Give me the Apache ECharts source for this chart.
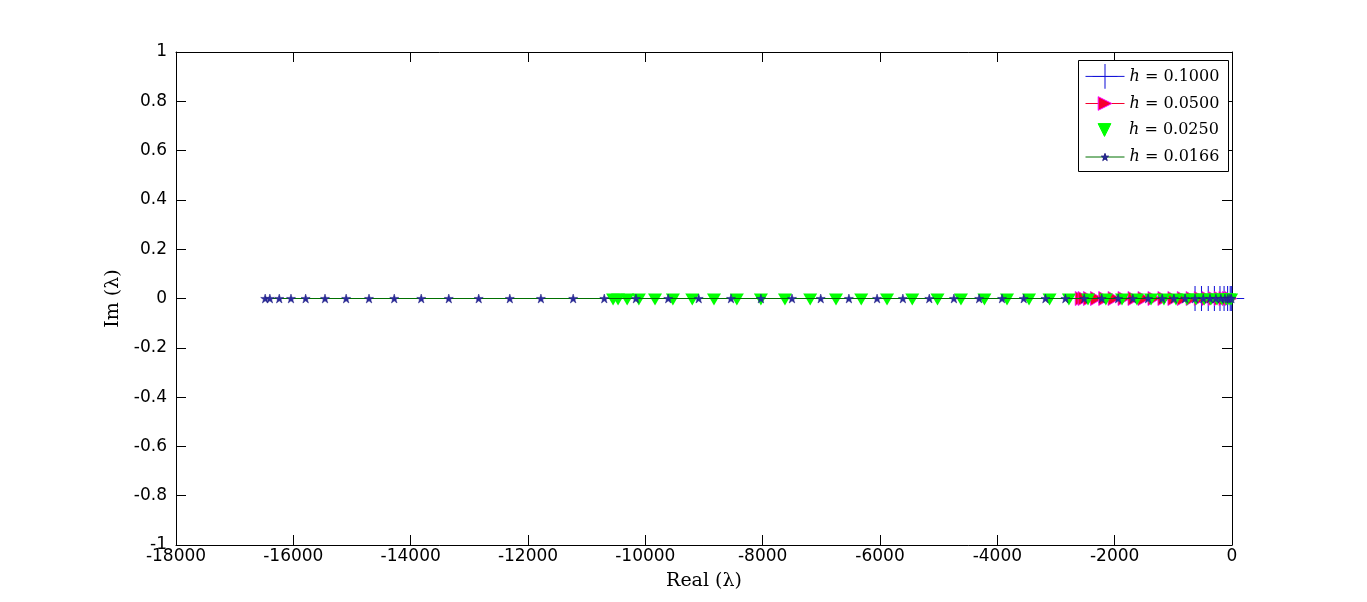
<!DOCTYPE html>
<html><head><meta charset="utf-8">
<script src="https://cdn.jsdelivr.net/npm/echarts@6/dist/echarts.min.js"></script>
<style>html,body{margin:0;padding:0;background:#fff}#c{width:1367px;height:602px}</style>
</head><body><div id="c"></div>
<script>
// ---- data ----
const seriesNames = ['h = 0.1000', 'h = 0.0500', 'h = 0.0250', 'h = 0.0166'];
// real parts of eigenvalues, imaginary parts are all 0
const re_h1000 = [-630, -520, -405, -300, -205, -135, -75, -30, -5];
const re_h0500 = [-2570, -2520, -2430, -2310, -2170, -2010, -1840, -1670, -1500, -1330, -1160, -990, -830, -680, -540, -410, -300, -200, -120, -60, -20];
const re_h0250 = [-10550, -10465, -10310, -10110, -9835, -9530, -9200, -8830, -8440, -8030, -7620, -7190, -6750, -6320, -5880, -5450, -5020, -4620, -4220, -3835, -3460, -3110, -2780, -2455, -2150, -1875, -1620, -1380, -1160, -955, -765, -615, -475, -360, -255, -170, -100, -50, -15];
const re_h0166 = [-16480, -16400, -16240, -16040, -15790, -15460, -15100, -14710, -14280, -13820, -13350, -12840, -12310, -11780, -11230, -10700, -10160, -9610, -9090, -8540, -8030, -7500, -7010, -6530, -6050, -5610, -5160, -4740, -4310, -3920, -3550, -3180, -2840, -2520, -2220, -1940, -1690, -1430, -1190, -990, -800, -630, -490, -375, -275, -190, -120, -70, -35, -10];
const imagPart = 0;
const xTicks = [-18000, -16000, -14000, -12000, -10000, -8000, -6000, -4000, -2000, 0];
const xTickLabels = ['-18000', '-16000', '-14000', '-12000', '-10000', '-8000', '-6000', '-4000', '-2000', '0'];
const yTicks = [-1, -0.8, -0.6, -0.4, -0.2, 0, 0.2, 0.4, 0.6, 0.8, 1];
const yTickLabels = ['-1', '-0.8', '-0.6', '-0.4', '-0.2', '0', '0.2', '0.4', '0.6', '0.8', '1'];
const xTitle = 'Real (λ)';
const yTitle = 'Im (λ)';

// ---- styles ----
const PLUS = 'path://M11.5,0 h1 v24 h-1 z M0,11.5 h24 v1 h-24 z';
const TRI_RIGHT = 'path://M0,0 L17,10 L0,20 Z';
const TRI_DOWN = 'path://M0,0 L20,0 L10,17 Z';
const STAR = 'path://M0,-100 L22,-31 L95,-31 L36,12 L59,81 L0,38 L-59,81 L-36,12 L-95,-31 L-22,-31 Z';

const pts = arr => arr.map(v => [v, imagPart]);
const lookup = (ticks, labels) => v => {
  const i = ticks.findIndex(t => Math.abs(t - v) < 1e-9);
  return i >= 0 ? labels[i] : '';
};
const tickFont = { color: '#000', fontFamily: 'DejaVu Sans', fontSize: 17 };
const titleFont = { color: '#000', fontFamily: 'DejaVu Serif', fontSize: 19 };
const axisCommon = {
  type: 'value',
  axisLine: { show: true, onZero: false, lineStyle: { color: '#000', width: 1 } },
  axisTick: { show: true, inside: true, length: 10, lineStyle: { color: '#000', width: 1 } },
  splitLine: { show: false }
};
const legendText = {
  color: '#000', fontFamily: 'DejaVu Serif', fontSize: 16, lineHeight: 16,
  rich: { i: { fontStyle: 'italic', fontFamily: 'DejaVu Serif', fontSize: 16, lineHeight: 16, color: '#000' } }
};
function mkLegend(name, top, itemHeight, lineW) {
  return {
    data: [name], orient: 'vertical', left: 1085, top: top, padding: 0,
    itemWidth: 39, itemHeight: itemHeight, selectedMode: false, z: 20,
    formatter: n => '{i|h}' + n.slice(1),
    textStyle: legendText,
    lineStyle: { width: lineW, opacity: lineW > 0 ? 1 : 0 },
    itemStyle: { borderWidth: 1 }
  };
}

const chart = echarts.init(document.getElementById('c'), null, { renderer: 'canvas' });
chart.setOption({
  animation: false,
  backgroundColor: '#fff',
  grid: { left: 176, right: 135, top: 52, bottom: 57, containLabel: false },
  xAxis: [
    Object.assign({}, axisCommon, {
      min: -18000, max: 0, interval: 2000, position: 'bottom',
      axisLabel: Object.assign({ margin: 3, formatter: lookup(xTicks, xTickLabels) }, tickFont),
      name: xTitle, nameLocation: 'middle', nameGap: 27, nameTextStyle: titleFont
    }),
    Object.assign({}, axisCommon, {
      min: -18000, max: 0, interval: 2000, position: 'top', axisLabel: { show: false }
    })
  ],
  yAxis: [
    Object.assign({}, axisCommon, {
      min: -1, max: 1, interval: 0.2, position: 'left',
      axisLabel: Object.assign({ margin: 9, formatter: lookup(yTicks, yTickLabels) }, tickFont),
      name: yTitle, nameLocation: 'middle', nameGap: 42, nameTextStyle: titleFont
    }),
    Object.assign({}, axisCommon, {
      min: -1, max: 1, interval: 0.2, position: 'right', axisLabel: { show: false }
    })
  ],
  legend: [
    mkLegend(seriesNames[0], 64, 31, 1),
    mkLegend(seriesNames[1], 95.5, 17, 1),
    mkLegend(seriesNames[2], 122, 16, 0),
    mkLegend(seriesNames[3], 149, 9, 1)
  ],
  graphic: [{
    type: 'rect', z: 10,
    shape: { x: 1078.5, y: 60.5, width: 150, height: 111 },
    style: { fill: '#fff', stroke: '#000', lineWidth: 1 }
  }],
  series: [
    {
      name: seriesNames[0], type: 'line', data: pts(re_h1000), z: 2,
      symbol: PLUS, symbolSize: 25, showSymbol: true,
      itemStyle: { color: '#1414d8', borderWidth: 0 },
      lineStyle: { color: '#1414d8', width: 1 }
    },
    {
      name: seriesNames[1], type: 'line', data: pts(re_h0500), z: 3,
      symbol: TRI_RIGHT, symbolSize: [12, 14], showSymbol: true,
      itemStyle: { color: '#f5002e', borderColor: '#ff00ff', borderWidth: 0.8 },
      lineStyle: { color: '#f5002e', width: 1 }
    },
    {
      name: seriesNames[2], type: 'line', data: pts(re_h0250), z: 4,
      symbol: TRI_DOWN, symbolSize: [14, 12], symbolOffset: [0, 1], showSymbol: true,
      itemStyle: { color: '#00ff00', borderColor: '#00ff00', borderWidth: 0 },
      lineStyle: { width: 0, opacity: 0 }
    },
    {
      name: seriesNames[3], type: 'line', data: pts(re_h0166), z: 5,
      symbol: STAR, symbolSize: 9, showSymbol: true,
      itemStyle: { color: '#2a2a9c', borderColor: '#1c1c80', borderWidth: 0.5 },
      lineStyle: { color: '#007000', width: 1 }
    }
  ]
});
</script></body></html>
